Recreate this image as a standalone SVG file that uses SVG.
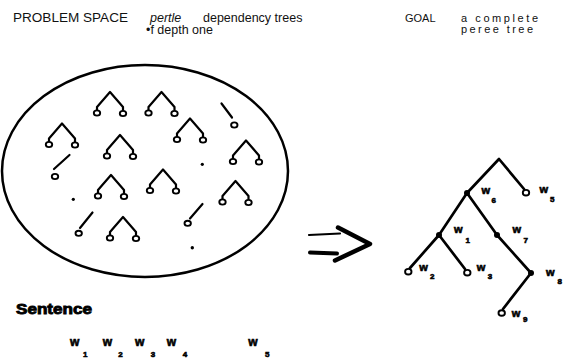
<svg xmlns="http://www.w3.org/2000/svg" xmlns:xlink="http://www.w3.org/1999/xlink" width="564" height="358" viewBox="0 0 564 358">
<style>
  .t{font-family:"Liberation Sans",Arial,sans-serif;fill:#111}
  .w{font-family:"Liberation Sans",Arial,sans-serif;font-weight:bold;fill:#000;stroke:#000;stroke-width:0.6}
  .ln{stroke:#000;stroke-width:2.2;fill:none;stroke-linecap:round;stroke-linejoin:round}
  .oc{fill:#fff;stroke:#000;stroke-width:1.9}
  .fc{fill:#000}
</style>
<defs>
  <g id="tr">
    <path class="ln" d="M-13,18 L-13,15 L0,0 L13,15 L13,18"/>
    <ellipse class="oc" cx="-13" cy="21" rx="3.2" ry="2.6"/>
    <ellipse class="oc" cx="13" cy="21.5" rx="3.2" ry="2.6"/>
  </g>
</defs>
<rect width="564" height="358" fill="#fff"/>

<g id="header">
  <text class="t" x="13" y="22" font-size="12.5" textLength="115" lengthAdjust="spacingAndGlyphs">PROBLEM SPACE</text>
  <text class="t" x="150" y="22" font-size="12.5" font-style="italic">pertle</text>
  <text class="t" x="203" y="22" font-size="12.5">dependency trees</text>
  <text class="t" x="146" y="33.5" font-size="12.5">•f depth one</text>
  <text class="t" x="405" y="22" font-size="11">GOAL</text>
  <text class="t" x="461" y="22" font-size="11" textLength="77" lengthAdjust="spacing">a complete</text>
  <text class="t" x="461" y="33" font-size="11" textLength="72" lengthAdjust="spacing">peree tree</text>
</g>

<g id="problem-space">
  <ellipse cx="145" cy="171" rx="143" ry="106" fill="none" stroke="#000" stroke-width="2.5"/>
  <use xlink:href="#tr" x="110" y="92"/>
  <use xlink:href="#tr" x="161.5" y="92"/>
  <use xlink:href="#tr" x="190" y="118.5"/>
  <use xlink:href="#tr" x="62" y="123.5"/>
  <use xlink:href="#tr" x="120" y="135"/>
  <use xlink:href="#tr" x="246" y="140.5"/>
  <use xlink:href="#tr" x="111" y="175"/>
  <use xlink:href="#tr" x="163" y="169.5"/>
  <use xlink:href="#tr" x="235.5" y="181"/>
  <use xlink:href="#tr" x="123" y="217"/>
  <path class="ln" d="M221.5,103.5 L232,117.5"/>
  <ellipse class="oc" cx="234.3" cy="125" rx="3.2" ry="2.6"/>
  <path class="ln" d="M69.5,155 L54,169"/>
  <ellipse class="oc" cx="55" cy="176.5" rx="3.2" ry="2.6"/>
  <path class="ln" d="M92.5,212.5 L80,228"/>
  <ellipse class="oc" cx="78.7" cy="233.3" rx="3.2" ry="2.6"/>
  <path class="ln" d="M202.5,204 L190,218.5"/>
  <ellipse class="oc" cx="187.7" cy="223.3" rx="3.2" ry="2.6"/>
  <circle class="fc" cx="202.3" cy="164.3" r="1.6"/>
  <circle class="fc" cx="73.3" cy="199.3" r="1.6"/>
  <circle class="fc" cx="192.3" cy="247.7" r="1.7"/>
</g>

<g id="arrow">
  <path class="ln" style="stroke-width:2.2" d="M309,235 L340,233.5"/>
  <path class="ln" style="stroke-width:4" d="M310,252.5 L337,253.5"/>
  <path class="ln" style="stroke-width:4.5" d="M338,227.5 L370,244 L335,260.5"/>
</g>

<g id="connectors">
  <path class="ln" style="stroke-width:2.7" d="M467,193 L499,159 L524,189"/>
  <path class="ln" style="stroke-width:2.7" d="M439,235 L467,193 L497,235 L531,273 L503,309"/>
  <path class="ln" style="stroke-width:2.7" d="M410,268 L439,235 L465,269"/>
</g>

<g id="tree-nodes">
  <circle class="fc" cx="467" cy="193" r="3"/>
  <circle class="fc" cx="439" cy="235" r="3"/>
  <circle class="fc" cx="497" cy="235" r="3"/>
  <circle class="fc" cx="531" cy="273" r="3"/>
  <ellipse class="oc" cx="526" cy="192.7" rx="3.2" ry="2.8"/>
  <ellipse class="oc" cx="408.3" cy="271.7" rx="3.2" ry="2.8"/>
  <ellipse class="oc" cx="467.3" cy="272.7" rx="3.2" ry="2.8"/>
  <ellipse class="oc" cx="501.7" cy="313" rx="3.2" ry="2.8"/>
</g>

<g id="tree-labels">
  <text class="w" x="481.5" y="193.5" font-size="11">w</text><text class="w" x="491.5" y="203" font-size="8">6</text>
  <text class="w" x="539.5" y="193" font-size="11">w</text><text class="w" x="550" y="202" font-size="8">5</text>
  <text class="w" x="454" y="233" font-size="11">w</text><text class="w" x="465.5" y="242.5" font-size="8">1</text>
  <text class="w" x="512.5" y="233.3" font-size="11">w</text><text class="w" x="523.5" y="242.5" font-size="8">7</text>
  <text class="w" x="419.3" y="270.7" font-size="11">w</text><text class="w" x="430" y="279.3" font-size="8">2</text>
  <text class="w" x="476.7" y="270.7" font-size="11">w</text><text class="w" x="487.8" y="279" font-size="8">3</text>
  <text class="w" x="546" y="276" font-size="11">w</text><text class="w" x="557.5" y="284" font-size="8">8</text>
  <text class="w" x="511.7" y="316.7" font-size="11">w</text><text class="w" x="523" y="321.7" font-size="8">9</text>
</g>

<g id="sentence">
  <text class="w" x="16" y="313.5" font-size="15" textLength="76" lengthAdjust="spacingAndGlyphs" style="stroke-width:0.9">Sentence</text>
  <text class="w" x="70" y="345.5" font-size="12">w</text><text class="w" x="83" y="357" font-size="8">1</text>
  <text class="w" x="102.7" y="345.5" font-size="12">w</text><text class="w" x="118.3" y="357" font-size="8">2</text>
  <text class="w" x="135" y="345.5" font-size="12">w</text><text class="w" x="150.7" y="357" font-size="8">3</text>
  <text class="w" x="166.7" y="345.5" font-size="12">w</text><text class="w" x="182.7" y="357" font-size="8">4</text>
  <text class="w" x="248.3" y="345.5" font-size="12">w</text><text class="w" x="265" y="357" font-size="8">5</text>
</g>
</svg>
